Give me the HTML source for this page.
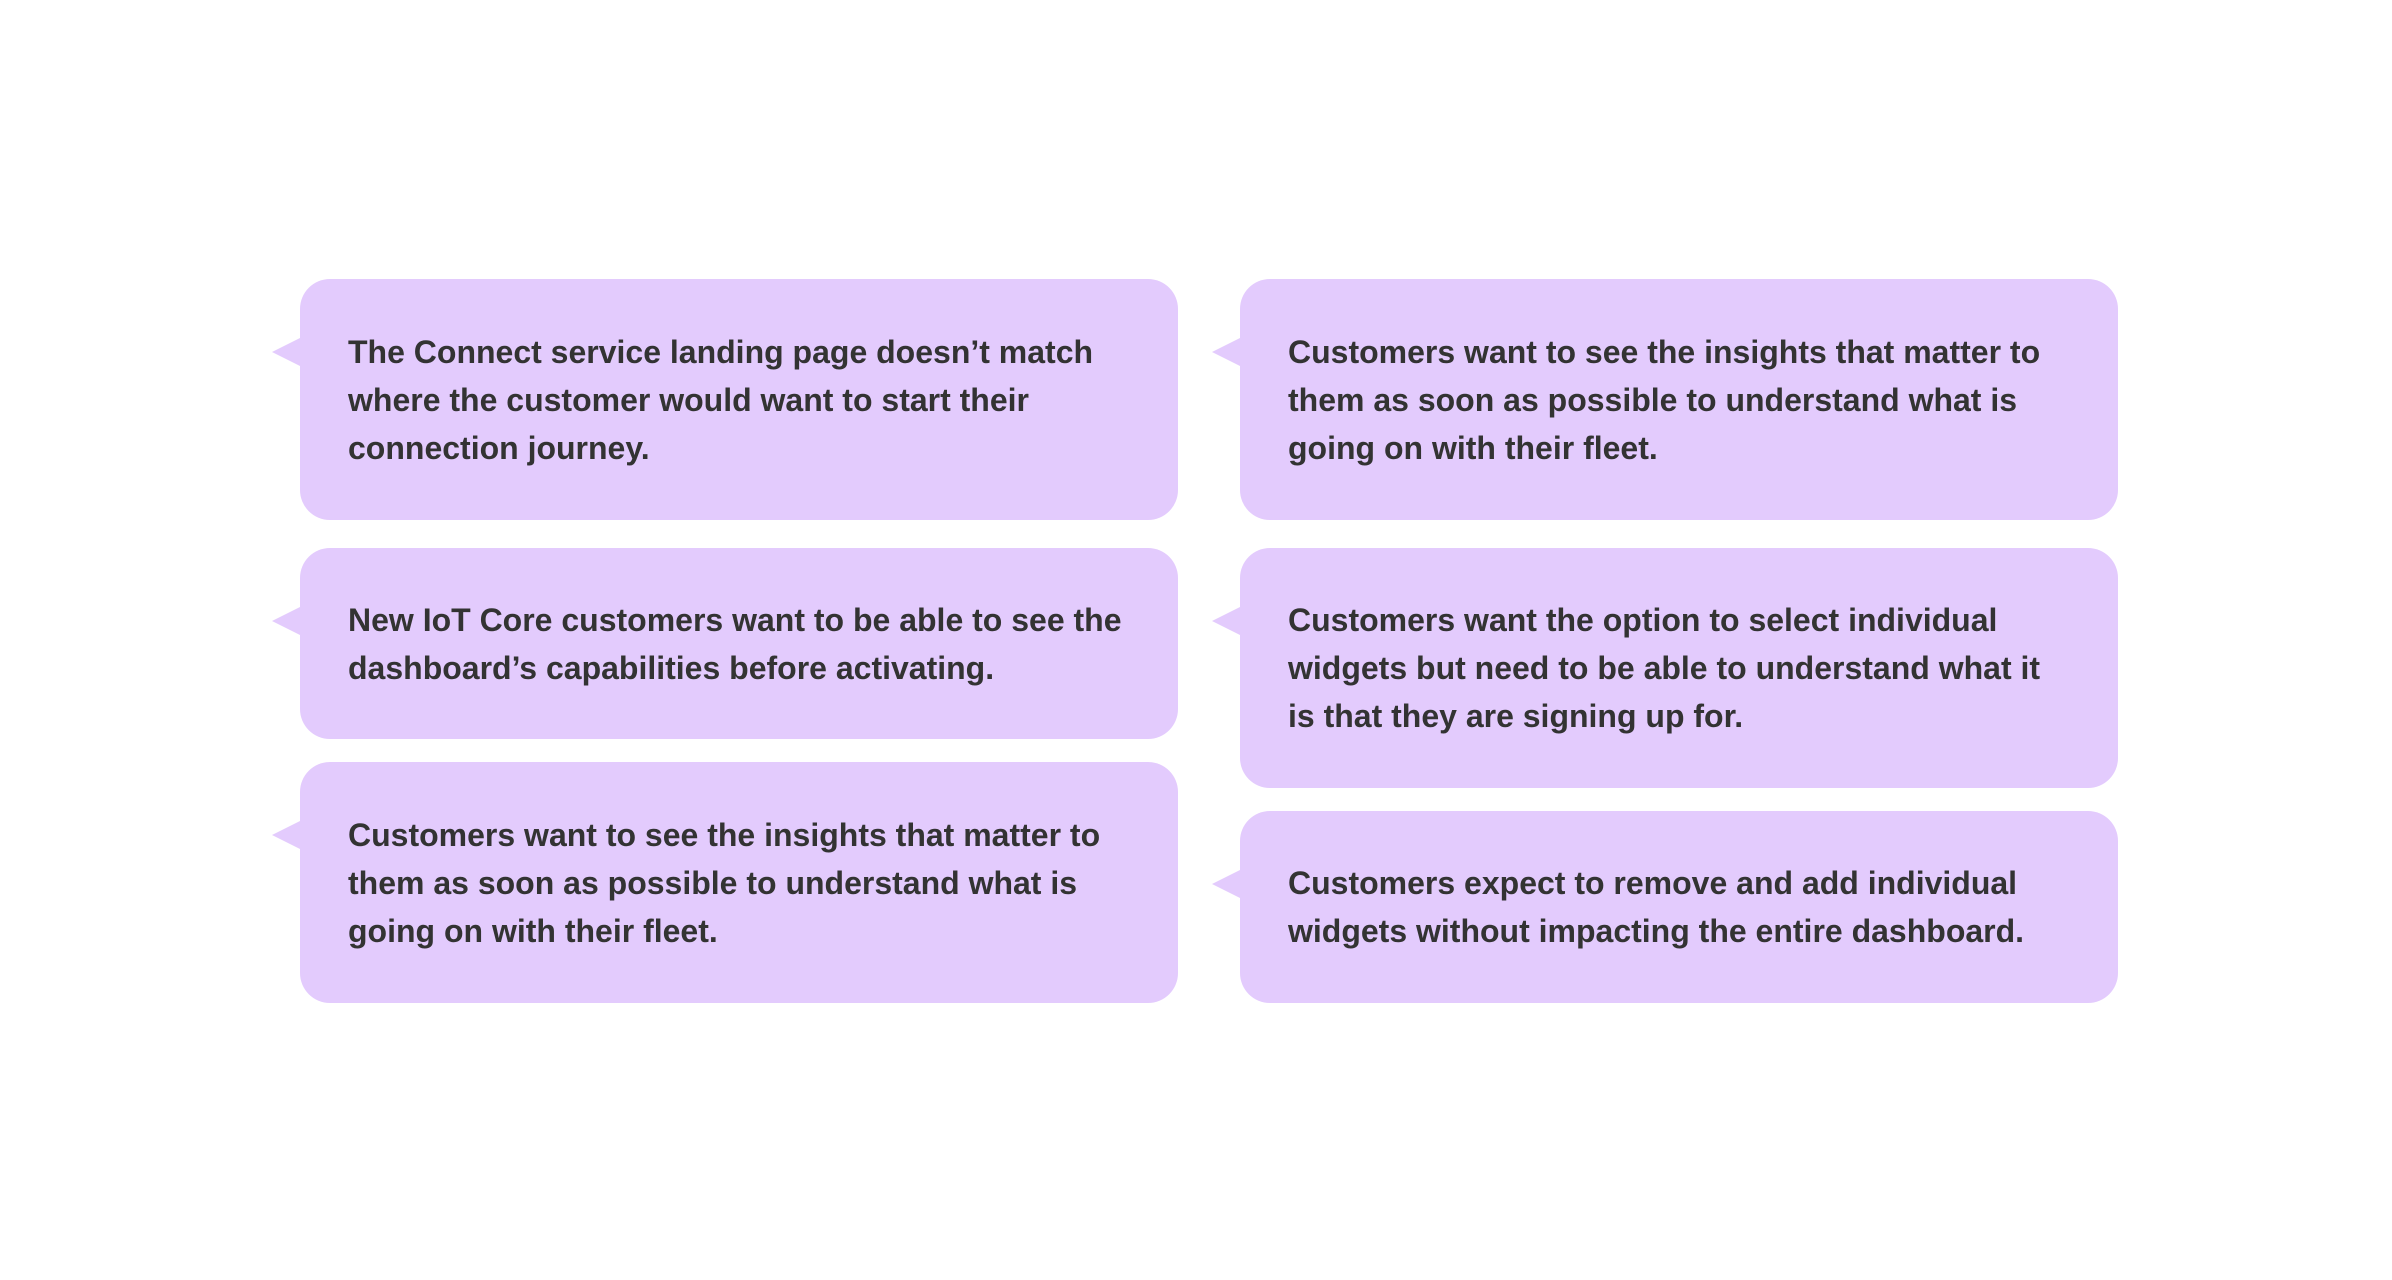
<!DOCTYPE html>
<html><head><meta charset="utf-8"><style>
html,body{margin:0;padding:0;background:#fff;width:2392px;height:1280px;overflow:hidden}
.b{position:absolute;background:#e3cbfd;border-radius:30px;box-sizing:border-box;padding:0 48px;display:flex;align-items:center;
font-family:"Liberation Sans",sans-serif;font-weight:bold;font-size:32px;line-height:48px;color:#333;letter-spacing:0px;width:878px}
.b:before{content:"";position:absolute;left:-28px;top:59px;border-right:28px solid #e3cbfd;border-top:14px solid transparent;border-bottom:14px solid transparent}
</style></head><body>
<div class="b" style="left:300px;top:279px;height:241px">The Connect service landing page doesn’t match where the customer would want to start their connection journey.</div>
<div class="b" style="left:300px;top:548px;height:191px">New IoT Core customers want to be able to see the dashboard’s capabilities before activating.</div>
<div class="b" style="left:300px;top:762px;height:241px">Customers want to see the insights that matter to them as soon as possible to understand what is going on with their fleet.</div>
<div class="b" style="left:1240px;top:279px;height:241px">Customers want to see the insights that matter to them as soon as possible to understand what is going on with their fleet.</div>
<div class="b" style="left:1240px;top:548px;height:240px">Customers want the option to select individual widgets but need to be able to understand what it is that they are signing up for.</div>
<div class="b" style="left:1240px;top:811px;height:192px">Customers expect to remove and add individual widgets without impacting the entire dashboard.</div>
</body></html>
